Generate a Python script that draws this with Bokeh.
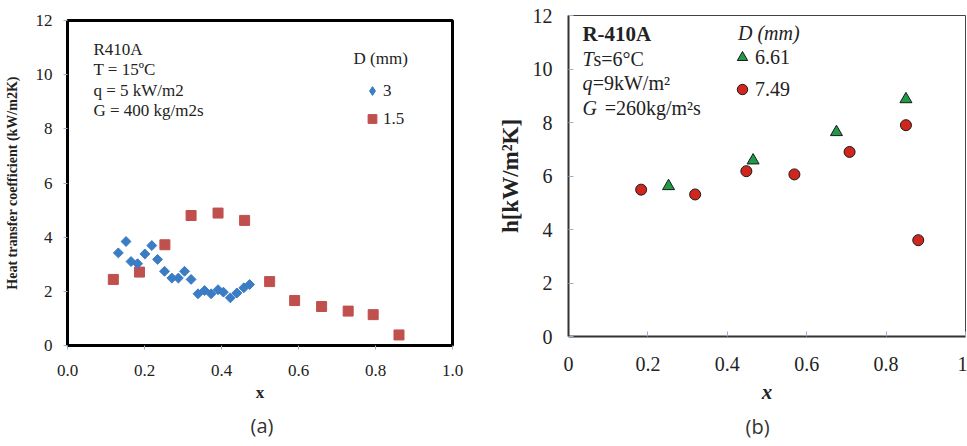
import numpy as np
from bokeh.plotting import figure
from bokeh.layouts import row, column
from bokeh.models import Legend, LegendItem, Label, FixedTicker, Title, Spacer
from bokeh.embed import file_html
from bokeh.resources import INLINE

# ---------------- data: panel (a) ----------------
a_x_d3 = [0.132, 0.152, 0.165, 0.182, 0.201, 0.219, 0.234, 0.252, 0.271, 0.288, 0.304,
          0.321, 0.339, 0.356, 0.373, 0.391, 0.405, 0.423, 0.440, 0.458, 0.473]
a_h_d3 = [3.42, 3.84, 3.10, 3.02, 3.38, 3.69, 3.18, 2.74, 2.49, 2.49, 2.74,
          2.44, 1.91, 2.03, 1.91, 2.06, 1.97, 1.76, 1.94, 2.13, 2.25]
a_x_d15 = [0.119, 0.187, 0.253, 0.321, 0.391, 0.460, 0.525, 0.590, 0.660, 0.729, 0.794, 0.861]
a_h_d15 = [2.44, 2.71, 3.72, 4.80, 4.89, 4.62, 2.36, 1.66, 1.44, 1.27, 1.14, 0.39]

# ---------------- data: panel (b) ----------------
b_x_d661 = [0.252, 0.465, 0.675, 0.850]
b_h_d661 = [5.62, 6.58, 7.64, 8.87]
b_x_d749 = [0.183, 0.319, 0.448, 0.569, 0.708, 0.850, 0.881]
b_h_d749 = [5.49, 5.31, 6.18, 6.06, 6.90, 7.90, 3.60]

x_ticks = [0.0, 0.2, 0.4, 0.6, 0.8, 1.0]
y_ticks = [0, 2, 4, 6, 8, 10, 12]

SERIF = "Liberation Serif"
TXT = "#222222"
TICK = "#8fb2d2"
BLUE = "#3b7dc5"
RED_A = "#c0504d"

# ================= panel (a) =================
pa = figure(width=480, height=441, x_range=(0, 1), y_range=(0, 12),
            output_backend="svg", toolbar_location=None,
            min_border_left=67, min_border_right=28, min_border_top=15, min_border_bottom=101)
pa.xgrid.visible = False
pa.ygrid.visible = False
pa.outline_line_color = "black"
pa.outline_line_width = 3
pa.background_fill_color = "white"

pa.xaxis.ticker = FixedTicker(ticks=x_ticks)
pa.yaxis.ticker = FixedTicker(ticks=y_ticks)
pa.xaxis.major_label_overrides = {v: f"{v:.1f}" for v in x_ticks}
for ax in (pa.xaxis[0], pa.yaxis[0]):
    ax.axis_line_color = "black"
    ax.axis_line_width = 3
    ax.major_tick_line_color = TICK
    ax.major_tick_in = 0
    ax.major_tick_out = 4
    ax.minor_tick_line_color = None
    ax.major_label_text_font = SERIF
    ax.major_label_text_font_size = "17px"
    ax.major_label_text_color = TXT
    ax.axis_label_text_font = SERIF
    ax.axis_label_text_font_style = "bold"
    ax.axis_label_text_color = TXT
pa.xaxis.axis_label = "x"
pa.xaxis.axis_label_text_font_size = "17px"
pa.xaxis.major_label_standoff = 15
pa.xaxis.axis_label_standoff = 4
pa.yaxis.axis_label = "Heat transfer coefficient (kW/m2K)"
pa.yaxis.axis_label_text_font_size = "14px"
pa.yaxis.major_label_standoff = 11
pa.yaxis.axis_label_standoff = 13

ra2 = pa.scatter(a_x_d15, a_h_d15, marker="square", size=10, color=RED_A)
# diamond layer (used as legend glyph) under the rotated-square markers
ra1_leg = pa.scatter(a_x_d3, a_h_d3, marker="diamond", size=8, color=BLUE)
ra1 = pa.scatter(a_x_d3, a_h_d3, marker="square", angle=np.pi / 4, size=7, color=BLUE)

leg_a = Legend(items=[LegendItem(label="3", renderers=[ra1_leg]),
                      LegendItem(label="1.5", renderers=[ra2])],
               location=(294, 214), background_fill_alpha=0, border_line_alpha=0,
               padding=0, margin=0, spacing=3, glyph_width=22, glyph_height=25,
               label_height=25, label_standoff=0, label_text_font=SERIF,
               label_text_font_size="17px", label_text_color=TXT)
pa.add_layout(leg_a)

for txt, yy in [("R410A", 10.93), ("T = 15ºC", 10.19), ("q = 5 kW/m2", 9.42), ("G = 400 kg/m2s", 8.68)]:
    pa.add_layout(Label(x=0.0675, y=yy, text=txt, text_font=SERIF, text_font_size="17px",
                        text_color=TXT, text_baseline="middle", text_align="left"))
pa.add_layout(Label(x=0.743, y=10.6, text="D (mm)", text_font=SERIF, text_font_size="17px",
                    text_color=TXT, text_baseline="middle", text_align="left"))
pa.add_layout(Title(text="(a)", align="left", offset=183, standoff=11, text_font="Open Sans",
                    text_font_size="20px", text_font_style="normal", text_color="#333333"), "below")

# ================= panel (b) =================
pb = figure(width=487, height=446, x_range=(0, 1), y_range=(0, 12),
            output_backend="svg", toolbar_location=None,
            min_border_left=88, min_border_right=2, min_border_top=15, min_border_bottom=110)
pb.xgrid.visible = False
pb.ygrid.visible = False
pb.outline_line_color = "#444444"
pb.outline_line_width = 1
pb.xaxis.ticker = FixedTicker(ticks=x_ticks)
pb.yaxis.ticker = FixedTicker(ticks=y_ticks)
pb.xaxis.major_label_overrides = {0.0: "0", 0.2: "0.2", 0.4: "0.4", 0.6: "0.6", 0.8: "0.8", 1.0: "1"}
for ax in (pb.xaxis[0], pb.yaxis[0]):
    ax.axis_line_color = "#333333"
    ax.axis_line_width = 2
    ax.major_tick_line_color = TICK
    ax.major_tick_in = 5
    ax.major_tick_out = 0
    ax.minor_tick_line_color = None
    ax.major_label_text_font = SERIF
    ax.major_label_text_font_size = "20px"
    ax.major_label_text_color = TXT
    ax.axis_label_text_font = SERIF
    ax.axis_label_text_color = TXT
pb.xaxis.axis_label = "x"
pb.xaxis.axis_label_text_font_style = "bold italic"
pb.xaxis.axis_label_text_font_size = "21px"
pb.xaxis.major_label_standoff = 20
pb.xaxis.axis_label_standoff = 6
pb.yaxis.axis_label = "h[kW/m²K]"
pb.yaxis.axis_label_text_font_style = "bold"
pb.yaxis.axis_label_text_font_size = "23px"
pb.yaxis.major_label_standoff = 16
pb.yaxis.axis_label_standoff = 7

rb1 = pb.scatter(b_x_d661, b_h_d661, marker="triangle", size=12, fill_color="#1f9a48",
                 line_color="#1a1a1a", line_width=1)
rb2 = pb.scatter(b_x_d749, b_h_d749, marker="circle", size=11, fill_color="#d0261e",
                 line_color="#1a1a1a", line_width=1)

leg_b = Legend(items=[LegendItem(label="6.61", renderers=[rb1]),
                      LegendItem(label="7.49", renderers=[rb2])],
               location=(161, 232), background_fill_alpha=0, border_line_alpha=0,
               padding=0, margin=0, spacing=2, glyph_width=26, glyph_height=30,
               label_height=30, label_standoff=0, label_text_font=SERIF,
               label_text_font_size="20px", label_text_color=TXT)
pb.add_layout(leg_b)

pb.add_layout(Label(x=0.035, y=11.29, text="R-410A", text_font=SERIF, text_font_size="21px",
                    text_font_style="bold", text_color=TXT, text_baseline="middle", text_align="left"))
for it, rest, yy, dx in [("T", "s=6°C", 10.39, 0.028), ("q", "=9kW/m²", 9.46, 0.026), ("G", "=260kg/m²s", 8.56, 0.056)]:
    pb.add_layout(Label(x=0.035, y=yy, text=it, text_font=SERIF, text_font_size="20px",
                        text_font_style="italic", text_color=TXT, text_baseline="middle", text_align="left"))
    pb.add_layout(Label(x=0.035 + dx, y=yy, text=rest, text_font=SERIF, text_font_size="20px",
                        text_color=TXT, text_baseline="middle", text_align="left"))
pb.add_layout(Label(x=0.427, y=11.33, text="D (mm)", text_font=SERIF, text_font_size="20px",
                    text_font_style="italic", text_color=TXT, text_baseline="middle", text_align="left"))
pb.add_layout(Title(text="(b)", align="left", offset=177, standoff=8, text_font="Open Sans",
                    text_font_size="20px", text_font_style="normal", text_color="#333333"), "below")

layout = row(column(Spacer(width=480, height=5), pa), column(pb))
open("out.html", "w").write(file_html(layout, INLINE))
